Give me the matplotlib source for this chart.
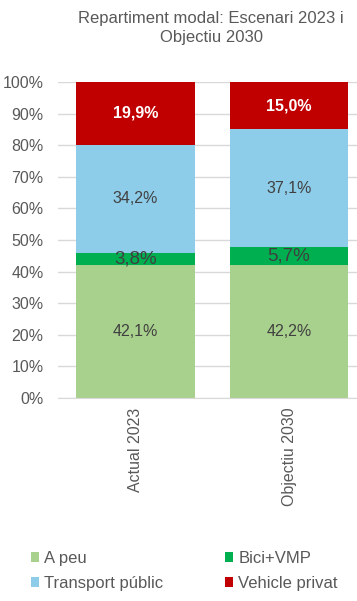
import matplotlib
matplotlib.use("Agg")
import matplotlib.pyplot as plt
from matplotlib.patches import Patch

categories = ["Actual 2023", "Objectiu 2030"]
series_names = ["A peu", "Bici+VMP", "Transport públic", "Vehicle privat"]
a_peu = [42.1, 42.2]
bici_vmp = [3.8, 5.7]
transport_public = [34.2, 37.1]
vehicle_privat = [19.9, 15.0]
yticks = [0, 10, 20, 30, 40, 50, 60, 70, 80, 90, 100]
title = "Repartiment modal: Escenari 2023 i\nObjectiu 2030"

colors = ["#A9D18E", "#00B050", "#8ECDEA", "#C00000"]
label_colors = ["#404040", "#404040", "#404040", "white"]
label_weights = ["normal", "normal", "normal", "bold"]
label_sizes = [11.5, 13.5, 11.5, 11.5]

plt.rcParams['font.family'] = ['Liberation Sans', 'DejaVu Sans']

fig = plt.figure(figsize=(3.57, 6.01), dpi=100)
ax = fig.add_axes([58/357, 1-398/601, 299/357, 316/601])

x = list(range(len(categories)))
data = [a_peu, bici_vmp, transport_public, vehicle_privat]
bottom = [0.0] * len(categories)
handles = []
for vals, name, col, lc, lw, ls in zip(data, series_names, colors, label_colors,
                                       label_weights, label_sizes):
    ax.bar(x, vals, width=0.775, bottom=bottom, color=col, zorder=2)
    for i, v in enumerate(vals):
        ax.text(x[i], bottom[i] + v/2, f"{v:.1f}%".replace(".", ","),
                ha="center", va="center", color=lc, fontsize=ls,
                fontweight=lw, zorder=3)
    bottom = [b + v for b, v in zip(bottom, vals)]
    handles.append(Patch(facecolor=col, edgecolor="none", label=name))

ax.set_xlim(-0.505, 1.443)
ax.set_ylim(0, 100)
ax.set_yticks(yticks)
ax.set_yticklabels([f"{t}%" for t in yticks])
ax.yaxis.grid(True, color="#D9D9D9", linewidth=1, zorder=0)
ax.set_axisbelow(True)
for s in ["top", "right", "left"]:
    ax.spines[s].set_visible(False)
ax.spines["bottom"].set_color("#D9D9D9")
ax.tick_params(axis="y", length=0, labelsize=11.5, labelcolor="#595959", pad=10.5)
ax.tick_params(axis="x", length=0, labelsize=11.5, labelcolor="#595959", pad=7)
ax.set_xticks(x)
ax.set_xticklabels(categories, rotation=90, va="top")

fig.text(211/357, 1-28/601, title, ha="center", va="center", fontsize=12,
         color="#595959", linespacing=1.4)

order = [0, 2, 1, 3]
leg = fig.legend([handles[i] for i in order], [series_names[i] for i in order],
                 ncol=2, loc="upper left", bbox_to_anchor=(31/357, 1-551/601),
                 frameon=False, fontsize=12, handlelength=0.5, handleheight=0.5,
                 handletextpad=0.3, columnspacing=3.7, labelspacing=0.6,
                 borderpad=0, borderaxespad=0)
for t in leg.get_texts():
    t.set_color("#595959")

fig.savefig("out.png", dpi=100)
